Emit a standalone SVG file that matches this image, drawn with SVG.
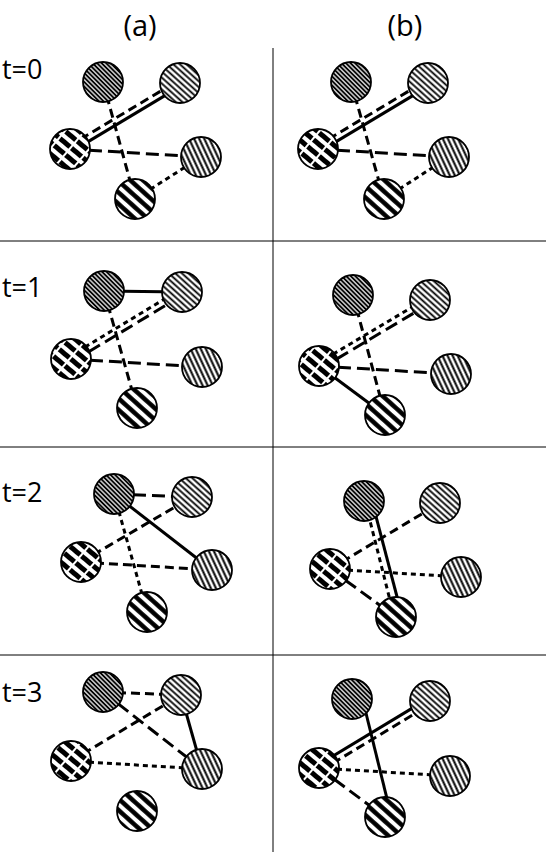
<svg xmlns="http://www.w3.org/2000/svg" width="546" height="852" viewBox="0 0 546 852">
<style>
.e{fill:none;stroke:#000;stroke-width:3}
.ld{stroke-dasharray:13 6}
.md{stroke-dasharray:9 5}
.sd{stroke-dasharray:5 4}
.grid{stroke:#000;stroke-width:1}
.n{stroke:#000;stroke-width:1.8}
.lbl{font-family:"Open Sans","Liberation Sans",sans-serif;fill:#000}
</style>
<defs>
<pattern id="pA" patternUnits="userSpaceOnUse" width="3.2" height="6" patternTransform="rotate(-45)">
<rect width="3.2" height="6" fill="#fff"/>
<line x1="1.6" y1="0" x2="1.6" y2="6" stroke="#000" stroke-width="2"/>
</pattern>
<pattern id="pB" patternUnits="userSpaceOnUse" width="4.4" height="10" patternTransform="rotate(-48)">
<rect width="4.4" height="10" fill="#fff"/>
<line x1="2.2" y1="0" x2="2.2" y2="10" stroke="#000" stroke-width="1.8"/>
</pattern>
<pattern id="pC" patternUnits="userSpaceOnUse" width="9" height="30" patternTransform="rotate(-50)">
<rect width="9" height="30" fill="#fff"/>
<line x1="4.5" y1="0" x2="4.5" y2="30" stroke="#000" stroke-width="5" stroke-dasharray="13 2"/>
</pattern>
<pattern id="pD" patternUnits="userSpaceOnUse" width="4.6" height="10" patternTransform="rotate(-25)">
<rect width="4.6" height="10" fill="#fff"/>
<line x1="2.3" y1="0" x2="2.3" y2="10" stroke="#000" stroke-width="2"/>
</pattern>
<pattern id="pE" patternUnits="userSpaceOnUse" width="8.5" height="16" patternTransform="rotate(-48)">
<rect width="8.5" height="16" fill="#fff"/>
<line x1="4.25" y1="0" x2="4.25" y2="16" stroke="#000" stroke-width="4.5"/>
</pattern>
</defs>
<rect width="546" height="852" fill="#fff"/>

<g id="grid">
<line class="grid" x1="273" y1="48" x2="273" y2="852"/>
<line class="grid" x1="0" y1="241" x2="546" y2="241"/>
<line class="grid" x1="0" y1="447" x2="546" y2="447"/>
<line class="grid" x1="0" y1="655" x2="546" y2="655"/>
</g>

<g id="labels">
<text class="lbl" x="140" y="36" font-size="29" text-anchor="middle">(a)</text>
<text class="lbl" x="405" y="36" font-size="29" text-anchor="middle">(b)</text>
<text class="lbl" x="2" y="79" font-size="27">t=0</text>
<text class="lbl" x="2" y="297" font-size="27">t=1</text>
<text class="lbl" x="2" y="502" font-size="27">t=2</text>
<text class="lbl" x="2" y="702" font-size="27">t=3</text>
</g>

<g id="connectors">
<!-- a t0 -->
<line class="e md" x1="103" y1="82" x2="135" y2="199"/>
<line class="e md" x1="68.5" y1="146.4" x2="178.5" y2="80.4"/>
<line class="e" x1="71.5" y1="151.6" x2="181.5" y2="85.6"/>
<line class="e ld" x1="70" y1="149" x2="201" y2="157"/>
<line class="e sd" x1="135" y1="199" x2="201" y2="157"/>
<!-- b t0 -->
<line class="e md" x1="351" y1="82" x2="384" y2="199"/>
<line class="e md" x1="316.5" y1="146.4" x2="426.5" y2="80.4"/>
<line class="e" x1="319.5" y1="151.6" x2="429.5" y2="85.6"/>
<line class="e ld" x1="318" y1="149" x2="449" y2="157"/>
<line class="e sd" x1="384" y1="199" x2="449" y2="157"/>
<!-- a t1 -->
<line class="e" x1="104" y1="291" x2="182" y2="292"/>
<line class="e md" x1="104" y1="291" x2="137" y2="408"/>
<line class="e sd" x1="69.5" y1="356.4" x2="180.5" y2="289.4"/>
<line class="e ld" x1="72.5" y1="361.6" x2="183.5" y2="294.6"/>
<line class="e ld" x1="71" y1="359" x2="202" y2="367"/>
<!-- b t1 -->
<line class="e md" x1="353" y1="295" x2="385" y2="415"/>
<line class="e sd" x1="317.5" y1="363.4" x2="428.5" y2="297.4"/>
<line class="e ld" x1="320.5" y1="368.6" x2="431.5" y2="302.6"/>
<line class="e ld" x1="319" y1="366" x2="451" y2="374"/>
<line class="e" x1="319" y1="366" x2="385" y2="415"/>
<!-- a t2 -->
<line class="e ld" x1="114" y1="494" x2="192" y2="497"/>
<line class="e" x1="114" y1="494" x2="212" y2="570"/>
<line class="e sd" x1="114" y1="494" x2="147" y2="612"/>
<line class="e md" x1="81" y1="562" x2="192" y2="497"/>
<line class="e md" x1="81" y1="562" x2="212" y2="570"/>
<!-- b t2 -->
<line class="e sd" x1="366" y1="505" x2="393" y2="612"/>
<line class="e" x1="373" y1="505" x2="401" y2="612"/>
<line class="e md" x1="330" y1="569" x2="440" y2="503"/>
<line class="e sd" x1="330" y1="569" x2="461" y2="577"/>
<line class="e ld" x1="330" y1="569" x2="396" y2="617"/>
<!-- a t3 -->
<line class="e md" x1="103" y1="692" x2="181" y2="695"/>
<line class="e ld" x1="103" y1="692" x2="202" y2="769"/>
<line class="e md" x1="71" y1="761" x2="181" y2="695"/>
<line class="e" x1="181" y1="695" x2="202" y2="769"/>
<line class="e sd" x1="71" y1="761" x2="202" y2="769"/>
<!-- b t3 -->
<line class="e" x1="317.5" y1="765.4" x2="428.5" y2="698.4"/>
<line class="e md" x1="320.5" y1="770.6" x2="431.5" y2="703.6"/>
<line class="e" x1="364" y1="705" x2="391" y2="815"/>
<line class="e sd" x1="319" y1="768" x2="450" y2="776"/>
<line class="e ld" x1="319" y1="768" x2="385" y2="817"/>
</g>

<g id="a0-A"><circle class="n" cx="103" cy="82" r="20" fill="url(#pA)"/></g>
<g id="a0-B"><circle class="n" cx="180" cy="83" r="20" fill="url(#pB)"/></g>
<g id="a0-C"><circle class="n" cx="70" cy="149" r="20" fill="url(#pC)"/></g>
<g id="a0-D"><circle class="n" cx="201" cy="157" r="20" fill="url(#pD)"/></g>
<g id="a0-E"><circle class="n" cx="135" cy="199" r="20" fill="url(#pE)"/></g>

<g id="b0-A"><circle class="n" cx="351" cy="82" r="20" fill="url(#pA)"/></g>
<g id="b0-B"><circle class="n" cx="428" cy="83" r="20" fill="url(#pB)"/></g>
<g id="b0-C"><circle class="n" cx="318" cy="149" r="20" fill="url(#pC)"/></g>
<g id="b0-D"><circle class="n" cx="449" cy="157" r="20" fill="url(#pD)"/></g>
<g id="b0-E"><circle class="n" cx="384" cy="199" r="20" fill="url(#pE)"/></g>

<g id="a1-A"><circle class="n" cx="104" cy="291" r="20" fill="url(#pA)"/></g>
<g id="a1-B"><circle class="n" cx="182" cy="292" r="20" fill="url(#pB)"/></g>
<g id="a1-C"><circle class="n" cx="71" cy="359" r="20" fill="url(#pC)"/></g>
<g id="a1-D"><circle class="n" cx="202" cy="367" r="20" fill="url(#pD)"/></g>
<g id="a1-E"><circle class="n" cx="137" cy="408" r="20" fill="url(#pE)"/></g>

<g id="b1-A"><circle class="n" cx="353" cy="295" r="20" fill="url(#pA)"/></g>
<g id="b1-B"><circle class="n" cx="430" cy="300" r="20" fill="url(#pB)"/></g>
<g id="b1-C"><circle class="n" cx="319" cy="366" r="20" fill="url(#pC)"/></g>
<g id="b1-D"><circle class="n" cx="451" cy="374" r="20" fill="url(#pD)"/></g>
<g id="b1-E"><circle class="n" cx="385" cy="415" r="20" fill="url(#pE)"/></g>

<g id="a2-A"><circle class="n" cx="114" cy="494" r="20" fill="url(#pA)"/></g>
<g id="a2-B"><circle class="n" cx="192" cy="497" r="20" fill="url(#pB)"/></g>
<g id="a2-C"><circle class="n" cx="81" cy="562" r="20" fill="url(#pC)"/></g>
<g id="a2-D"><circle class="n" cx="212" cy="570" r="20" fill="url(#pD)"/></g>
<g id="a2-E"><circle class="n" cx="147" cy="612" r="20" fill="url(#pE)"/></g>

<g id="b2-A"><circle class="n" cx="364" cy="501" r="20" fill="url(#pA)"/></g>
<g id="b2-B"><circle class="n" cx="440" cy="503" r="20" fill="url(#pB)"/></g>
<g id="b2-C"><circle class="n" cx="330" cy="569" r="20" fill="url(#pC)"/></g>
<g id="b2-D"><circle class="n" cx="461" cy="577" r="20" fill="url(#pD)"/></g>
<g id="b2-E"><circle class="n" cx="396" cy="617" r="20" fill="url(#pE)"/></g>

<g id="a3-A"><circle class="n" cx="103" cy="692" r="20" fill="url(#pA)"/></g>
<g id="a3-B"><circle class="n" cx="181" cy="695" r="20" fill="url(#pB)"/></g>
<g id="a3-C"><circle class="n" cx="71" cy="761" r="20" fill="url(#pC)"/></g>
<g id="a3-D"><circle class="n" cx="202" cy="769" r="20" fill="url(#pD)"/></g>
<g id="a3-E"><circle class="n" cx="137" cy="811" r="20" fill="url(#pE)"/></g>

<g id="b3-A"><circle class="n" cx="352" cy="699" r="20" fill="url(#pA)"/></g>
<g id="b3-B"><circle class="n" cx="430" cy="701" r="20" fill="url(#pB)"/></g>
<g id="b3-C"><circle class="n" cx="319" cy="768" r="20" fill="url(#pC)"/></g>
<g id="b3-D"><circle class="n" cx="450" cy="776" r="20" fill="url(#pD)"/></g>
<g id="b3-E"><circle class="n" cx="385" cy="817" r="20" fill="url(#pE)"/></g>
</svg>
